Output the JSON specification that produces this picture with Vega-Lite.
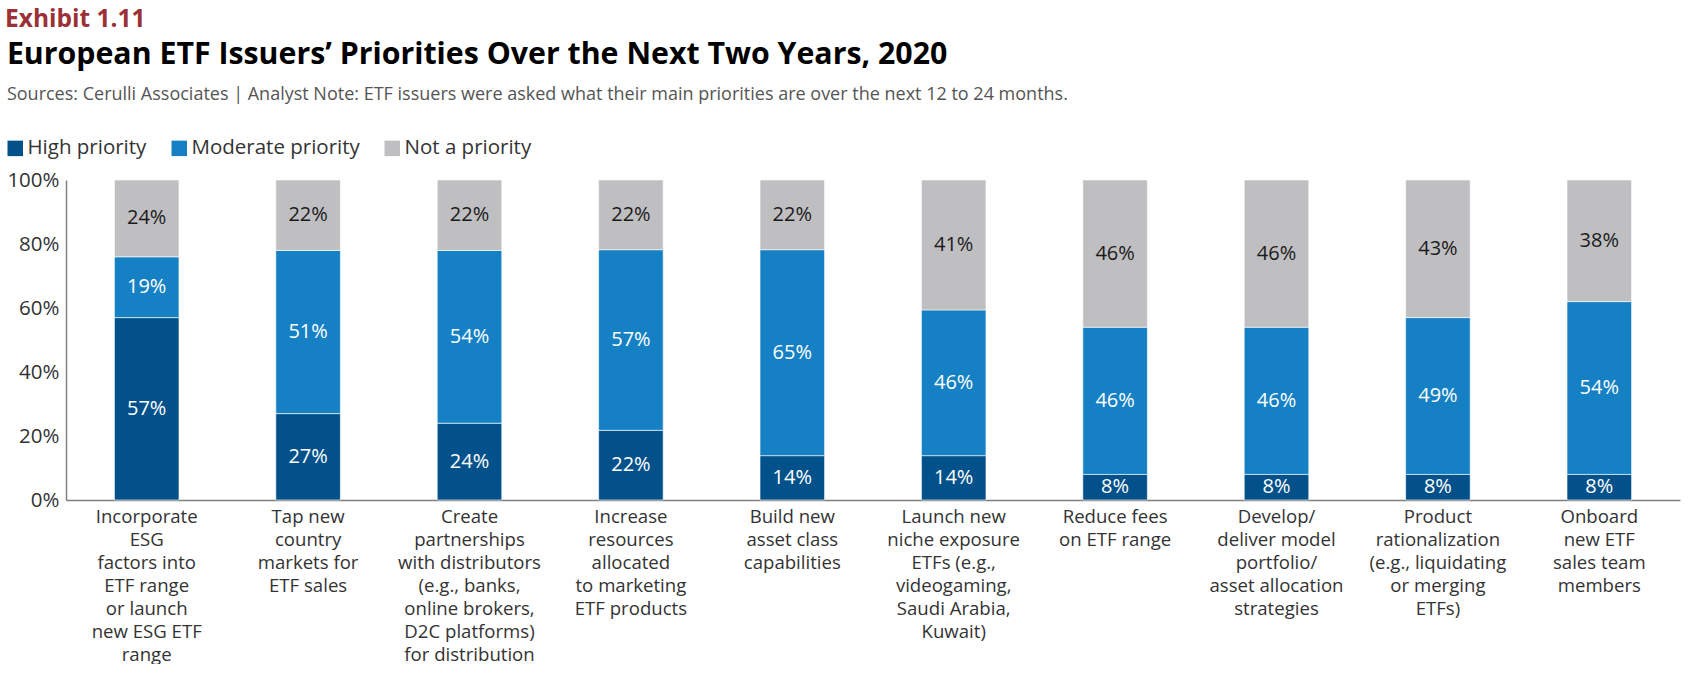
{
  "$schema": "https://vega.github.io/schema/vega-lite/v6.json",
  "padding": {"left": 5, "right": 3, "top": 7, "bottom": 0},
  "background": "white",
  "config": {
    "font": "Open Sans",
    "view": {"stroke": null},
    "concat": {"spacing": 0}
  },
  "title": {
    "text": "Exhibit 1.11",
    "anchor": "start",
    "frame": "bounds",
    "color": "#9B3036",
    "fontSize": 24.5,
    "fontWeight": "bold",
    "offset": 7
  },
  "vconcat": [
    {
      "width": 1614,
      "height": 320,
      "title": {
        "text": "European ETF Issuers’ Priorities Over the Next Two Years, 2020",
        "subtitle": "Sources: Cerulli Associates  |  Analyst Note: ETF issuers were asked what their main priorities are over the next 12 to 24 months.",
        "anchor": "start",
        "frame": "bounds",
        "fontSize": 30.3,
        "fontWeight": "bold",
        "color": "#000000",
        "subtitleFontSize": 18,
        "subtitleColor": "#555555",
        "subtitlePadding": 16,
        "offset": 66
      },
      "data": {
        "values": [
          {"cat": "Incorporate|ESG|factors into|ETF range|or launch|new ESG ETF|range", "priority": "High priority", "pct": 0.57},
          {"cat": "Incorporate|ESG|factors into|ETF range|or launch|new ESG ETF|range", "priority": "Moderate priority", "pct": 0.19},
          {"cat": "Incorporate|ESG|factors into|ETF range|or launch|new ESG ETF|range", "priority": "Not a priority", "pct": 0.24},
          {"cat": "Tap new|country|markets for|ETF sales", "priority": "High priority", "pct": 0.27},
          {"cat": "Tap new|country|markets for|ETF sales", "priority": "Moderate priority", "pct": 0.51},
          {"cat": "Tap new|country|markets for|ETF sales", "priority": "Not a priority", "pct": 0.22},
          {"cat": "Create|partnerships|with distributors|(e.g., banks,|online brokers,|D2C platforms)|for distribution", "priority": "High priority", "pct": 0.24},
          {"cat": "Create|partnerships|with distributors|(e.g., banks,|online brokers,|D2C platforms)|for distribution", "priority": "Moderate priority", "pct": 0.54},
          {"cat": "Create|partnerships|with distributors|(e.g., banks,|online brokers,|D2C platforms)|for distribution", "priority": "Not a priority", "pct": 0.22},
          {"cat": "Increase|resources|allocated|to marketing|ETF products", "priority": "High priority", "pct": 0.22},
          {"cat": "Increase|resources|allocated|to marketing|ETF products", "priority": "Moderate priority", "pct": 0.57},
          {"cat": "Increase|resources|allocated|to marketing|ETF products", "priority": "Not a priority", "pct": 0.22},
          {"cat": "Build new|asset class|capabilities", "priority": "High priority", "pct": 0.14},
          {"cat": "Build new|asset class|capabilities", "priority": "Moderate priority", "pct": 0.65},
          {"cat": "Build new|asset class|capabilities", "priority": "Not a priority", "pct": 0.22},
          {"cat": "Launch new|niche exposure|ETFs (e.g.,|videogaming,|Saudi Arabia,|Kuwait)", "priority": "High priority", "pct": 0.14},
          {"cat": "Launch new|niche exposure|ETFs (e.g.,|videogaming,|Saudi Arabia,|Kuwait)", "priority": "Moderate priority", "pct": 0.46},
          {"cat": "Launch new|niche exposure|ETFs (e.g.,|videogaming,|Saudi Arabia,|Kuwait)", "priority": "Not a priority", "pct": 0.41},
          {"cat": "Reduce fees|on ETF range", "priority": "High priority", "pct": 0.08},
          {"cat": "Reduce fees|on ETF range", "priority": "Moderate priority", "pct": 0.46},
          {"cat": "Reduce fees|on ETF range", "priority": "Not a priority", "pct": 0.46},
          {"cat": "Develop/|deliver model|portfolio/|asset allocation|strategies", "priority": "High priority", "pct": 0.08},
          {"cat": "Develop/|deliver model|portfolio/|asset allocation|strategies", "priority": "Moderate priority", "pct": 0.46},
          {"cat": "Develop/|deliver model|portfolio/|asset allocation|strategies", "priority": "Not a priority", "pct": 0.46},
          {"cat": "Product|rationalization|(e.g., liquidating|or merging|ETFs)", "priority": "High priority", "pct": 0.08},
          {"cat": "Product|rationalization|(e.g., liquidating|or merging|ETFs)", "priority": "Moderate priority", "pct": 0.49},
          {"cat": "Product|rationalization|(e.g., liquidating|or merging|ETFs)", "priority": "Not a priority", "pct": 0.43},
          {"cat": "Onboard|new ETF|sales team|members", "priority": "High priority", "pct": 0.08},
          {"cat": "Onboard|new ETF|sales team|members", "priority": "Moderate priority", "pct": 0.54},
          {"cat": "Onboard|new ETF|sales team|members", "priority": "Not a priority", "pct": 0.38}
        ]
      },
      "transform": [
        {"stack": "pct", "groupby": ["cat"], "sort": [{"field": "priority", "order": "ascending"}], "offset": "normalize", "as": ["y0", "y1"]},
        {"calculate": "(datum.y0 + datum.y1) / 2", "as": "ymid"}
      ],
      "encoding": {
        "x": {
          "field": "cat",
          "type": "nominal",
          "sort": null,
          "scale": {"paddingInner": 0.6, "paddingOuter": 0.3},
          "axis": {
            "title": null,
            "labelAngle": 0,
            "labelExpr": "split(datum.label, '|')",
            "labelFontSize": 18.6,
            "labelLineHeight": 23,
            "labelColor": "#333333",
            "labelPadding": 7,
            "labelLimit": 0,
            "labelBaseline": "top",
            "ticks": false,
            "domainColor": "#808080",
            "domainWidth": 1.5
          }
        }
      },
      "layer": [
        {
          "mark": {"type": "bar", "stroke": "white", "strokeWidth": 0.6},
          "encoding": {
            "y": {
              "field": "y0",
              "type": "quantitative",
              "scale": {"domain": [0, 1], "nice": false},
              "axis": {
                "title": null,
                "format": ".0%",
                "values": [0, 0.2, 0.4, 0.6, 0.8, 1],
                "grid": false,
                "ticks": false,
                "labelFontSize": 20.5,
                "labelColor": "#333333",
                "labelPadding": 7,
                "domainColor": "#808080",
                "domainWidth": 1.5
              }
            },
            "y2": {"field": "y1"},
            "color": {
              "field": "priority",
              "type": "nominal",
              "scale": {
                "domain": ["High priority", "Moderate priority", "Not a priority"],
                "range": ["#03518A", "#1580C3", "#BFBFC1"]
              },
              "legend": {
                "title": null,
                "orient": "none",
                "direction": "horizontal",
                "legendX": -61,
                "legendY": -42,
                "symbolType": "square",
                "symbolSize": 240,
                "symbolStrokeWidth": 0,
                "labelFontSize": 20.5,
                "labelColor": "#333333",
                "labelOffset": 2,
                "labelLimit": 400,
                "columnPadding": 22
              }
            }
          }
        },
        {
          "mark": {"type": "text", "fontSize": 20, "baseline": "middle", "align": "center"},
          "encoding": {
            "y": {"field": "ymid", "type": "quantitative"},
            "text": {"field": "pct", "type": "quantitative", "format": ".0%"},
            "color": {
              "condition": {"test": "datum.priority === 'Not a priority'", "value": "#1a1a1a"},
              "value": "#ffffff"
            }
          }
        }
      ]
    }
  ]
}
